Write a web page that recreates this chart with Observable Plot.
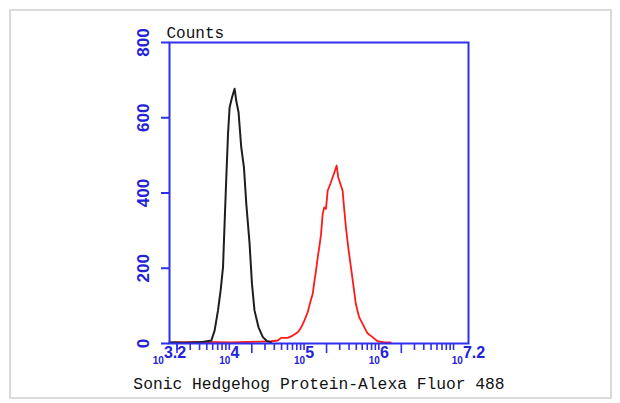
<!DOCTYPE html>
<html>
<head>
<meta charset="utf-8">
<script src="https://cdn.jsdelivr.net/npm/d3@7"></script>
<script src="https://cdn.jsdelivr.net/npm/@observablehq/plot@0.6"></script>
<style>
  html, body { margin: 0; padding: 0; background: #fff; }
  #wrap { position: relative; width: 620px; height: 403px; }
  #border { position: absolute; left: 9px; top: 9px; width: 599px; height: 386px; border: 2px solid #dadada; pointer-events: none; }
</style>
</head>
<body>
<div id="wrap"><div id="border"></div></div>
<script>
// Black (control) histogram: fluorescence intensity and counts
const blackX = [1585, 2512, 3981, 5754, 6368, 7063, 7656, 8241, 8650, 9120, 9616, 10093, 10864, 11776, 12388, 13305, 14454, 15703, 16866, 18664, 20091, 21727, 24604, 28119, 32137, 36308];
const blackY = [3, 2, 3, 8, 35, 88, 141, 203, 319, 442, 558, 627, 654, 677, 645, 614, 521, 468, 372, 266, 159, 88, 43, 17, 6, 3];

// Red (Sonic Hedgehog) histogram
const redX = [1849, 4236, 10641, 26710, 36308, 44566, 49317, 60660, 70632, 82414, 91201, 100925, 111944, 121339, 130617, 137088, 144544, 152405, 159956, 168655, 177419, 186638, 196336, 207014, 224388, 241546, 258821, 272898, 286418, 311170, 328095, 344350, 363078, 389942, 423643, 460257, 493174, 545758, 606736, 706318, 824138, 961612, 1177606, 1445440];
const redY = [3, 4, 3, 5, 6, 8, 15, 15, 21, 30, 42, 61, 83, 110, 132, 163, 194, 229, 256, 290, 344, 362, 358, 406, 424, 442, 459, 473, 442, 420, 406, 358, 309, 256, 203, 150, 105, 70, 52, 27, 17, 6, 3, 3];

// Axes
const yTicks = [0, 200, 400, 600, 800];
const xLabelValues = [1584.89, 1e4, 1e5, 1e6, 15848932];
const xLabelExponents = ["3.2", "4", "5", "6", "7.2"];
const xMinorTicks = [2000,3000,4000,5000,6000,7000,8000,9000,1e4,
  3e4,4e4,5e4,6e4,7e4,8e4,9e4,1e5,
  3e5,4e5,5e5,6e5,7e5,8e5,9e5,1e6,
  3e6,4e6,5e6,6e6,7e6,8e6,9e6,1e7];
const xMajorTicks = [2000, 2e4, 2e5, 2e6];
const yLabel = "Counts";
const xLabel = "Sonic Hedgehog Protein-Alexa Fluor 488";

const black = blackX.map((x, i) => ({x, y: blackY[i]}));
const red = redX.map((x, i) => ({x, y: redY[i]}));

const BLUE = "#2f2ff0";
const BLUE_TXT = "#2222d8";

const expFor = d => xLabelExponents[xLabelValues.indexOf(d)];

const chart = Plot.plot({
  width: 620,
  height: 403,
  marginLeft: 169,
  marginRight: 152,
  marginTop: 42,
  marginBottom: 60,
  style: {background: "transparent", overflow: "visible"},
  x: {type: "log", domain: [1584.89, 15848932]},
  y: {domain: [0, 800]},
  marks: [
    Plot.line(red, {x: "x", y: "y", stroke: "#ff1a1a", strokeWidth: 1.8}),
    Plot.line(black, {x: "x", y: "y", stroke: "#1e1e1e", strokeWidth: 2}),
    Plot.frame({stroke: BLUE, strokeWidth: 2}),
    Plot.axisY({ticks: yTicks, tickSize: 8, tickRotate: -90, tickPadding: 13, label: null,
      stroke: BLUE, strokeWidth: 2, fill: BLUE_TXT, fontSize: 17, fontWeight: "bold",
      fontFamily: "Liberation Sans, Arial, sans-serif"}),
    Plot.axisX({ticks: xMinorTicks, tickSize: 7, tickFormat: () => "", label: null, stroke: BLUE, strokeWidth: 1.6}),
    Plot.axisX({ticks: xMajorTicks, tickSize: 10, tickFormat: () => "", label: null, stroke: BLUE, strokeWidth: 1.6}),
    Plot.axisX({ticks: xLabelValues, tickSize: 0, tickPadding: 7, label: null,
      tickFormat: d => "10|" + expFor(d),
      fill: BLUE_TXT, fontWeight: "bold", fontFamily: "Liberation Sans, Arial, sans-serif"}),
    Plot.text([yLabel], {frameAnchor: "top-left", textAnchor: "start", lineAnchor: "bottom", dx: -3, dy: -5,
      fontSize: 16, fill: "#111", fontFamily: "Liberation Mono, monospace"}),
    Plot.text([xLabel], {frameAnchor: "bottom", lineAnchor: "bottom", dy: 45,
      fontSize: 16.3, fill: "#111", fontFamily: "Liberation Mono, monospace"})
  ]
});

// Split the x tick labels into a small base "10" and a large exponent
d3.select(chart).selectAll("text").each(function() {
  const t = this.textContent;
  if (!t.includes("|")) return;
  const [base, exp] = t.split("|");
  const sel = d3.select(this);
  sel.selectAll("*").remove();
  sel.text(null);
  sel.append("tspan").attr("font-size", 10).attr("dy", "0.6em").text(base);
  sel.append("tspan").attr("font-size", 16).attr("dy", "-0.35em").text(exp);
});

document.getElementById("wrap").prepend(chart);
</script>
</body>
</html>
